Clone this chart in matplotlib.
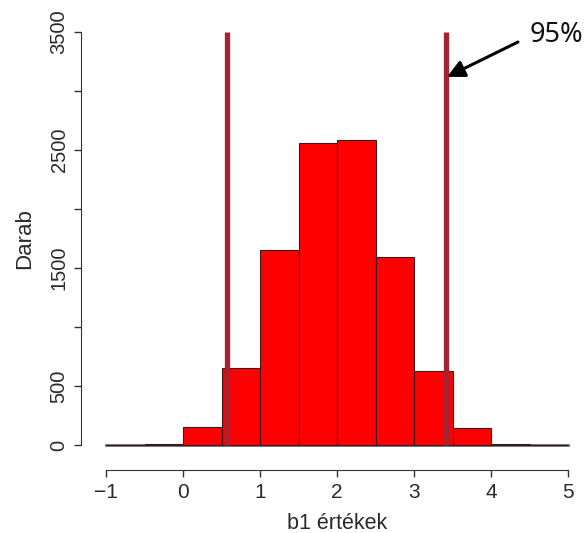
import matplotlib
matplotlib.use("Agg")
import matplotlib.pyplot as plt
import numpy as np

# Data
bin_edges = [-1.0, -0.5, 0.0, 0.5, 1.0, 1.5, 2.0, 2.5, 3.0, 3.5, 4.0, 4.5, 5.0]
counts = [0, 10, 153, 653, 1653, 2559, 2585, 1593, 627, 144, 10, 0]
interval_bounds = [0.57, 3.42]
y_ticks = [0, 500, 1000, 1500, 2000, 2500, 3000, 3500]
y_tick_labels = ["0", "500", "", "1500", "", "2500", "", "3500"]
x_ticks = [-1, 0, 1, 2, 3, 4, 5]
x_tick_labels = ["\u22121", "0", "1", "2", "3", "4", "5"]
annotation_text = "95%"
arrow_tip = (3.43, 3120)
arrow_start = (4.35, 3415)
text_pos = (4.50, 3475)

plt.rcParams['font.family'] = ['Liberation Sans', 'DejaVu Sans']

W, H = 587, 533
fig = plt.figure(figsize=(W / 100, H / 100), dpi=100)
left_px, right_px, top_px, bottom_px = 106, 568, 32, 445
ax = fig.add_axes([left_px / W, (H - bottom_px) / H,
                   (right_px - left_px) / W, (bottom_px - top_px) / H])

ax.set_xlim(-1, 5)
ax.set_ylim(0, 3500)

# baseline
ax.plot([bin_edges[0], bin_edges[-1]], [0, 0], color='#6e6e6e', lw=2, zorder=1, clip_on=False)

widths = np.diff(bin_edges)
ax.bar(bin_edges[:-1], counts, width=widths, align='edge', color='#ff0000',
       edgecolor='#3a1a1a', linewidth=0.8, zorder=2, clip_on=False)

ax.vlines(interval_bounds, 0, 3500, color='#a8212e', lw=3.8, zorder=3, clip_on=False)

ax.annotate('', xy=arrow_tip, xytext=arrow_start,
            arrowprops=dict(arrowstyle='-|>', color='black', lw=2.2, mutation_scale=26,
                            shrinkA=0, shrinkB=0),
            annotation_clip=False)
ax.text(text_pos[0], text_pos[1], annotation_text, ha='left', va='center',
        fontsize=19.5, family=['Noto Sans', 'DejaVu Sans'], color='#111111')

for s in ['top', 'right']:
    ax.spines[s].set_visible(False)
ax.spines['left'].set_position(('outward', 18))
ax.spines['bottom'].set_position(('outward', 18))
ax.spines['left'].set_bounds(0, 3500)
ax.spines['bottom'].set_bounds(-1, 5)
ax.spines['left'].set_color('#333333')
ax.spines['bottom'].set_color('#333333')

ax.set_yticks(y_ticks)
ax.set_yticklabels(y_tick_labels, rotation=90, va='center')
ax.set_xticks(x_ticks)
ax.set_xticklabels(x_tick_labels)
ax.tick_params(axis='y', length=5, width=1, color='#333333', labelsize=14.5, pad=4, labelcolor='#2a2a2a')
ax.tick_params(axis='x', length=5, width=1, color='#333333', labelsize=15, pad=4, labelcolor='#2a2a2a')

ax.set_xlabel('b1 értékek', fontsize=15.5, color='#2a2a2a', labelpad=8)
ax.set_ylabel('Darab', fontsize=16, color='#2a2a2a', labelpad=10)

fig.savefig('out.png', dpi=100)
